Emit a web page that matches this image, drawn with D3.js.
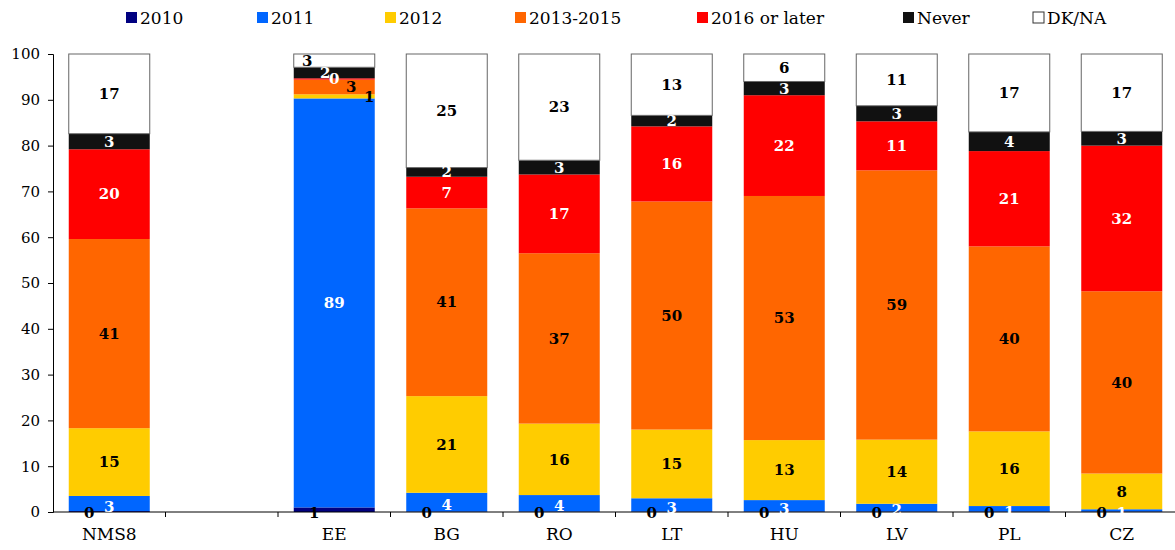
<!DOCTYPE html>
<html>
<head>
<meta charset="utf-8">
<script src="https://cdn.jsdelivr.net/npm/d3@7"></script>
<style>
  body { margin: 0; background: #fff; }
  svg text { font-family: "DejaVu Serif", Georgia, serif; }
</style>
</head>
<body>
<div id="chart"></div>
<script>
// Categories (one empty slot after NMS8)
const slots = ["NMS8", "gap", "EE", "BG", "RO", "LT", "HU", "LV", "PL", "CZ"];
const countries = ["NMS8", "EE", "BG", "RO", "LT", "HU", "LV", "PL", "CZ"];

// Series, in stacking order (bottom to top), one value per country
const seriesNames = ["2010", "2011", "2012", "2013-2015", "2016 or later", "Never", "DK/NA"];
const v2010  = [0.2, 1.0, 0.1, 0.1, 0.1, 0.1, 0.1, 0.1, 0.1];
const v2011  = [3.3, 89.3, 4.1, 3.6, 2.9, 2.5, 1.7, 1.2, 0.5];
const v2012  = [14.8, 0.9, 21.1, 15.6, 15.0, 13.1, 14.0, 16.3, 7.8];
const v2013  = [41.3, 3.2, 41.0, 37.2, 49.8, 53.3, 58.8, 40.4, 39.8];
const v2016  = [19.6, 0.3, 6.9, 17.2, 16.4, 22.0, 10.7, 20.8, 31.8];
const vNever = [3.4, 2.4, 2.0, 3.1, 2.4, 3.0, 3.4, 4.2, 3.1];
const vDkna  = [17.4, 2.9, 24.8, 23.2, 13.4, 6.0, 11.3, 17.0, 16.9];
const yTicks = [0, 10, 20, 30, 40, 50, 60, 70, 80, 90, 100];

const colors = ["#000080", "#0066ff", "#ffcc00", "#ff6600", "#ff0000", "#111111", "#ffffff"];
const labelColors = ["#000", "#fff", "#000", "#000", "#fff", "#fff", "#000"];

// crowded labels on EE are pushed sideways, like in the original
const eeNudge = { "2012": 35, "2013-2015": 17, "2016 or later": 0, "Never": -9, "DK/NA": -27 };

const allValues = [v2010, v2011, v2012, v2013, v2016, vNever, vDkna];
const rows = countries.map((c, i) => {
    const r = { country: c };
    seriesNames.forEach((s, k) => r[s] = allValues[k][i]);
    return r;
});

const W = 1175, H = 550;
const margin = { left: 53, right: -3, top: 54, bottom: 38 };

const svg = d3.select("#chart").append("svg")
    .attr("width", W)
    .attr("height", H);

const x = d3.scaleBand()
    .domain(slots)
    .range([margin.left, W - margin.right])
    .paddingInner(0.28)
    .paddingOuter(0.14);

const y = d3.scaleLinear()
    .domain([0, 100])
    .range([H - margin.bottom, margin.top]);

const color = d3.scaleOrdinal().domain(seriesNames).range(colors);
const stack = d3.stack().keys(seriesNames)(rows);

// Bars
const layers = svg.append("g").selectAll("g")
    .data(stack)
    .join("g")
    .attr("fill", d => color(d.key));

layers.selectAll("rect")
    .data(d => d.map(p => ({ key: d.key, p })))
    .join("rect")
    .attr("x", d => x(d.p.data.country))
    .attr("y", d => y(d.p[1]))
    .attr("width", x.bandwidth())
    .attr("height", d => y(d.p[0]) - y(d.p[1]))
    .attr("stroke", d => d.key === "DK/NA" ? "#666" : null)
    .attr("stroke-width", 1);

// Axes
const yAxis = d3.axisLeft(y).tickValues(yTicks).tickSize(5).tickPadding(8);
const gy = svg.append("g")
    .attr("transform", `translate(${margin.left},0)`)
    .call(yAxis);
gy.select(".domain").attr("stroke", "#000");
gy.selectAll(".tick line").attr("stroke", "#000");
gy.selectAll("text").attr("font-size", 15).attr("fill", "#000")
    .style("font-family", '"DejaVu Serif", Georgia, serif');

const step = x.step();
const gx = svg.append("g").attr("transform", `translate(0,${y(0)})`);
gx.append("line")
    .attr("x1", margin.left).attr("x2", W)
    .attr("stroke", "#000");
gx.selectAll(".sep")
    .data(slots)
    .join("line")
    .attr("class", "sep")
    .attr("x1", d => x(d) + x.bandwidth() / 2 + step / 2)
    .attr("x2", d => x(d) + x.bandwidth() / 2 + step / 2)
    .attr("y1", 0).attr("y2", 5)
    .attr("stroke", "#000");
gx.selectAll(".cat")
    .data(slots.filter(s => s !== "gap"))
    .join("text")
    .attr("class", "cat")
    .attr("x", d => x(d) + x.bandwidth() / 2)
    .attr("y", 28)
    .attr("text-anchor", "middle")
    .attr("font-size", 17)
    .text(d => d);

// Value labels
const labels = [];
stack.forEach((layer, k) => {
    layer.forEach(p => {
        const c = p.data.country;
        const val = p[1] - p[0];
        let lx = x(c) + x.bandwidth() / 2;
        let ly = y((p[0] + p[1]) / 2);
        if (layer.key === "2010") {
            lx -= 20;
            ly = y(0) + 1;
        } else if (layer.key === "2011" && val < 5) {
            ly = y(val / 2) + 2;
        }
        if (c === "EE" && eeNudge[layer.key] !== undefined) lx += eeNudge[layer.key];
        labels.push({ x: lx, y: ly, text: Math.round(val), fill: labelColors[k] });
    });
});

svg.append("g").selectAll("text")
    .data(labels)
    .join("text")
    .attr("x", d => d.x)
    .attr("y", d => d.y)
    .attr("dy", "0.35em")
    .attr("text-anchor", "middle")
    .attr("font-size", 15)
    .attr("font-weight", "bold")
    .attr("fill", d => d.fill)
    .text(d => d.text);

// Legend
const legendX = [126, 257, 385, 515, 697, 903, 1033];
const legend = svg.append("g").selectAll("g")
    .data(seriesNames)
    .join("g")
    .attr("transform", (d, i) => `translate(${legendX[i]},18)`);
legend.append("rect")
    .attr("x", 0).attr("y", -6)
    .attr("width", 11).attr("height", 11)
    .attr("fill", d => color(d))
    .attr("stroke", d => d === "DK/NA" ? "#333" : "none");
legend.append("text")
    .attr("x", 14)
    .attr("y", 0)
    .attr("dy", "0.35em")
    .attr("font-size", 17)
    .text(d => d);
</script>
</body>
</html>
